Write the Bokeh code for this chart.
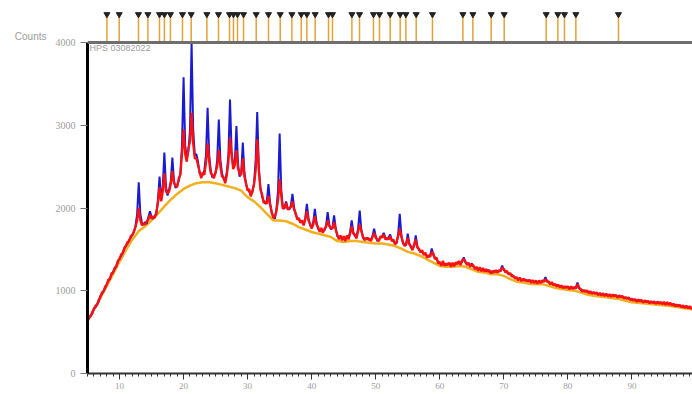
import numpy as np
from bokeh.plotting import figure
from bokeh.models import FixedTicker, SingleIntervalTicker, Label, Span, LinearAxis
from bokeh.embed import file_html
from bokeh.resources import INLINE

# ---------------- data ----------------
TWO_THETA_START = 5.0
TWO_THETA_STEP = 0.25

# observed counts (blue), one row per degree: x.00, x.25, x.50, x.75
OBS = [
    650, 668, 700, 722,      # 5
    790, 800, 838, 870,      # 6
    935, 960, 1000, 1030,    # 7
    1080, 1118, 1150, 1195,  # 8
    1230, 1262, 1300, 1352,  # 9
    1390, 1420, 1462, 1505,  # 10
    1550, 1570, 1612, 1640,  # 11
    1680, 1705, 1790, 1925,  # 12
    2310, 1930, 1820, 1795,  # 13
    1830, 1810, 1890, 1960,  # 14
    1895, 1870, 1905, 1925,  # 15
    2100, 2380, 2110, 2250,  # 16
    2670, 2260, 2150, 2230,  # 17
    2320, 2610, 2330, 2240,  # 18
    2280, 2330, 2420, 2750,  # 19
    3580, 2760, 2600, 2680,  # 20
    2940, 4000, 2950, 2640,  # 21
    2650, 2560, 2420, 2390,  # 22
    2400, 2460, 2640, 3210,  # 23
    2640, 2450, 2370, 2390,  # 24
    2420, 2580, 3070, 2580,  # 25
    2420, 2350, 2330, 2430,  # 26
    2640, 3310, 2680, 2510,  # 27
    2560, 2990, 2530, 2380,  # 28
    2430, 2790, 2430, 2290,  # 29
    2230, 2200, 2160, 2190,  # 30
    2300, 2560, 3160, 2480,  # 31
    2250, 2140, 2090, 2050,  # 32
    2080, 2290, 2070, 1940,  # 33
    1900, 1870, 1990, 2210,  # 34
    2900, 2220, 2010, 1990,  # 35
    2080, 2000, 1980, 2030,  # 36
    2170, 2010, 1920, 1880,  # 37
    1860, 1840, 1830, 1810,  # 38
    1880, 2050, 1880, 1790,  # 39
    1770, 1830, 1990, 1830,  # 40
    1750, 1730, 1745, 1720,  # 41
    1730, 1790, 1950, 1800,  # 42
    1740, 1770, 1910, 1760,  # 43
    1660, 1640, 1650, 1630,  # 44
    1640, 1620, 1650, 1640,  # 45
    1710, 1850, 1710, 1660,  # 46
    1650, 1750, 1970, 1740,  # 47
    1640, 1630, 1620, 1640,  # 48
    1610, 1620, 1660, 1750,  # 49
    1660, 1600, 1620, 1640,  # 50
    1660, 1700, 1640, 1620,  # 51
    1640, 1680, 1620, 1600,  # 52
    1580, 1570, 1680, 1930,  # 53
    1680, 1570, 1560, 1550,  # 54
    1690, 1570, 1520, 1510,  # 55
    1540, 1670, 1540, 1490,  # 56
    1480, 1470, 1450, 1440,  # 57
    1420, 1410, 1430, 1510,  # 58
    1430, 1400, 1380, 1350,  # 59
    1330, 1320, 1340, 1320,  # 60
    1310, 1330, 1320, 1310,  # 61
    1320, 1310, 1330, 1340,  # 62
    1340, 1330, 1350, 1405,  # 63
    1340, 1330, 1320, 1310,  # 64
    1330, 1290, 1280, 1270,  # 65
    1260, 1270, 1250, 1260,  # 66
    1250, 1240, 1250, 1230,  # 67
    1230, 1220, 1240, 1230,  # 68
    1240, 1230, 1250, 1305,  # 69
    1250, 1240, 1220, 1210,  # 70
    1200, 1190, 1170, 1160,  # 71
    1150, 1140, 1150, 1130,  # 72
    1130, 1140, 1120, 1125,  # 73
    1120, 1110, 1120, 1105,  # 74
    1110, 1100, 1115, 1105,  # 75
    1110, 1120, 1164, 1120,  # 76
    1100, 1090, 1095, 1080,  # 77
    1070, 1065, 1060, 1055,  # 78
    1050, 1045, 1040, 1050,  # 79
    1040, 1030, 1045, 1035,  # 80
    1030, 1040, 1100, 1040,  # 81
    1010, 1005, 995, 1000,   # 82
    990, 985, 980, 975,      # 83
    970, 975, 965, 960,      # 84
    960, 955, 960, 950,      # 85
    950, 945, 950, 940,      # 86
    940, 945, 935, 930,      # 87
    930, 935, 925, 920,      # 88
    910, 915, 905, 900,      # 89
    890, 895, 885, 880,      # 90
    880, 885, 875, 870,      # 91
    870, 875, 865, 862,      # 92
    860, 865, 858, 855,      # 93
    855, 858, 850, 852,      # 94
    850, 845, 848, 842,      # 95
    840, 835, 830, 825,      # 96
    820, 825, 815, 812,      # 97
    810, 805, 808, 800,      # 98
    800, 795, 790,           # 99
]

# second trace (red)
CALC = [
    640, 690, 690, 745,      # 5
    775, 820, 825, 890,      # 6
    920, 980, 990, 1050,     # 7
    1070, 1135, 1140, 1210,  # 8
    1220, 1280, 1290, 1365,  # 9
    1380, 1440, 1450, 1520,  # 10
    1540, 1590, 1600, 1660,  # 11
    1670, 1720, 1770, 1850,  # 12
    2000, 1850, 1790, 1815,  # 13
    1800, 1840, 1860, 1920,  # 14
    1870, 1900, 1880, 1950,  # 15
    2060, 2250, 2080, 2200,  # 16
    2420, 2200, 2180, 2200,  # 17
    2290, 2450, 2300, 2270,  # 18
    2250, 2360, 2400, 2650,  # 19
    2950, 2650, 2560, 2720,  # 20
    2800, 3150, 2780, 2600,  # 21
    2600, 2520, 2440, 2360,  # 22
    2430, 2400, 2550, 2780,  # 23
    2560, 2420, 2400, 2360,  # 24
    2440, 2500, 2700, 2500,  # 25
    2380, 2370, 2300, 2400,  # 26
    2560, 2850, 2640, 2470,  # 27
    2520, 2700, 2480, 2410,  # 28
    2400, 2600, 2380, 2300,  # 29
    2210, 2230, 2140, 2210,  # 30
    2280, 2450, 2830, 2450,  # 31
    2220, 2170, 2060, 2080,  # 32
    2050, 2150, 2040, 1960,  # 33
    1880, 1900, 1960, 2100,  # 34
    2350, 2150, 1990, 2010,  # 35
    2060, 1980, 2000, 2010,  # 36
    2080, 1980, 1940, 1860,  # 37
    1880, 1820, 1850, 1790,  # 38
    1860, 1960, 1850, 1810,  # 39
    1750, 1800, 1900, 1800,  # 40
    1770, 1710, 1760, 1700,  # 41
    1750, 1770, 1850, 1780,  # 42
    1760, 1750, 1830, 1740,  # 43
    1680, 1620, 1670, 1610,  # 44
    1660, 1600, 1670, 1620,  # 45
    1690, 1780, 1690, 1680,  # 46
    1630, 1720, 1800, 1720,  # 47
    1660, 1610, 1640, 1620,  # 48
    1630, 1600, 1650, 1700,  # 49
    1640, 1620, 1600, 1660,  # 50
    1640, 1680, 1620, 1640,  # 51
    1620, 1660, 1600, 1620,  # 52
    1560, 1590, 1660, 1750,  # 53
    1650, 1590, 1540, 1570,  # 54
    1640, 1560, 1540, 1490,  # 55
    1560, 1620, 1520, 1510,  # 56
    1460, 1490, 1430, 1460,  # 57
    1400, 1430, 1410, 1470,  # 58
    1450, 1380, 1400, 1330,  # 59
    1350, 1300, 1360, 1300,  # 60
    1330, 1310, 1340, 1290,  # 61
    1340, 1295, 1345, 1320,  # 62
    1360, 1310, 1370, 1380,  # 63
    1355, 1310, 1340, 1290,  # 64
    1320, 1305, 1260, 1290,  # 65
    1240, 1285, 1235, 1275,  # 66
    1230, 1260, 1230, 1250,  # 67
    1210, 1240, 1220, 1250,  # 68
    1220, 1250, 1235, 1280,  # 69
    1265, 1220, 1240, 1195,  # 70
    1215, 1170, 1185, 1145,  # 71
    1165, 1125, 1160, 1115,  # 72
    1145, 1120, 1135, 1110,  # 73
    1135, 1095, 1130, 1090,  # 74
    1125, 1085, 1125, 1090,  # 75
    1125, 1105, 1140, 1105,  # 76
    1115, 1075, 1105, 1065,  # 77
    1085, 1050, 1075, 1040,  # 78
    1065, 1030, 1055, 1035,  # 79
    1055, 1015, 1055, 1020,  # 80
    1045, 1025, 1080, 1025,  # 81
    1025, 990, 1010, 985,    # 82
    1005, 970, 995, 960,     # 83
    985, 960, 980, 945,      # 84
    975, 940, 970, 935,      # 85
    965, 930, 960, 925,      # 86
    955, 930, 950, 915,      # 87
    945, 920, 940, 905,      # 88
    925, 900, 920, 885,      # 89
    905, 880, 900, 865,      # 90
    895, 870, 890, 855,      # 91
    885, 860, 880, 848,      # 92
    875, 850, 872, 840,      # 93
    870, 843, 865, 837,      # 94
    865, 830, 862, 828,      # 95
    855, 820, 845, 810,      # 96
    835, 810, 830, 798,      # 97
    825, 790, 822, 786,      # 98
    815, 780, 800,           # 99
]

# background curve (orange)
BKG_X = [5, 6, 7, 8, 9, 10, 11, 12, 13, 14, 15, 16, 17, 18, 19, 20, 21, 22, 23, 24,
         25, 26, 27, 28, 29, 30, 31, 32, 33, 34, 35, 36, 37, 38, 39, 40, 41, 42, 43, 44,
         45, 46, 47, 48, 49, 50, 51, 52, 53, 54, 55, 56, 57, 58, 59, 60, 61, 62, 63, 64,
         65, 66, 67, 68, 69, 70, 71, 72, 73, 74, 75, 76, 77, 78, 79, 80, 81, 82, 83, 84,
         85, 86, 87, 88, 89, 90, 92, 94, 96, 98, 100]
BKG_Y = [630, 770, 910, 1055, 1200, 1350, 1490, 1620, 1720, 1780, 1850, 1930, 2020, 2100, 2170,
         2230, 2270, 2300, 2310, 2310, 2300, 2280, 2260, 2240, 2210, 2130, 2080, 2010, 1930, 1850,
         1850, 1840, 1810, 1770, 1740, 1710, 1690, 1670, 1650, 1600, 1590, 1600, 1600, 1590, 1580,
         1570, 1570, 1560, 1540, 1510, 1470, 1450, 1420, 1380, 1340, 1300, 1290, 1290, 1300, 1290,
         1260, 1230, 1220, 1200, 1200, 1180, 1140, 1110, 1100, 1085, 1080, 1080, 1060, 1035, 1020,
         1010, 1000, 980, 955, 940, 930, 920, 910, 900, 880, 860, 845, 830, 815, 790, 770]

# reference peak positions (marker ticks above the plot)
PEAK_POS = [8.03, 9.95, 12.96, 14.43, 16.24, 17.01, 17.95, 19.83, 21.19, 23.64, 25.45,
            27.17, 27.79, 28.42, 29.36, 31.34, 33.26, 35.09, 36.91, 38.37, 39.25, 40.55,
            42.63, 43.25, 46.28, 47.47, 49.65, 50.59, 52.26, 53.82, 54.71, 56.32, 58.86,
            63.61, 65.17, 68.03, 70.06, 76.62, 78.44, 79.47, 81.25, 87.90]

Y_TICKS = [0, 1000, 2000, 3000, 4000]
Y_MAX = 4000
Y_LABEL = "Counts"
Y_LABEL_POS = 4078
SAMPLE = "HPS 03082022"

two_theta = TWO_THETA_START + TWO_THETA_STEP * np.arange(len(OBS))

# ---------------- figure ----------------
p = figure(width=692, height=394, x_range=(5, 99.46), y_range=(0, 4387),
           output_backend="svg", toolbar_location=None,
           min_border_left=87, min_border_right=0, min_border_top=10, min_border_bottom=21)
p.background_fill_color = "white"
p.border_fill_color = "white"
p.outline_line_color = None
p.xgrid.visible = False
p.ygrid.visible = False

LABEL_GRAY = "#9c9c9c"

# y axis
p.yaxis.bounds = (0, Y_MAX)
p.yaxis.ticker = FixedTicker(ticks=Y_TICKS)
p.yaxis.axis_line_width = 3
p.yaxis.axis_line_color = "black"
p.yaxis.major_tick_in = 0
p.yaxis.major_tick_out = 7
p.yaxis.major_tick_line_color = "#777777"
p.yaxis.minor_tick_line_color = None
p.yaxis.major_label_text_color = LABEL_GRAY
p.yaxis.major_label_text_font_size = "10px"
p.yaxis.major_label_text_font = "Liberation Serif"
p.yaxis.major_label_standoff = 5

# outer left axis carrying only the "Counts" caption
counts_axis = LinearAxis(ticker=FixedTicker(ticks=[Y_LABEL_POS]),
                         major_label_overrides={Y_LABEL_POS: Y_LABEL},
                         axis_line_color=None, major_tick_line_color=None,
                         minor_tick_line_color=None, major_tick_out=0, major_tick_in=0,
                         major_label_standoff=6, major_label_text_color=LABEL_GRAY,
                         major_label_text_font_size="10px",
                         major_label_text_font="Liberation Sans")
p.add_layout(counts_axis, "left")

# x axis
p.xaxis.ticker = SingleIntervalTicker(interval=10, num_minor_ticks=10)
p.xaxis.axis_line_width = 2
p.xaxis.axis_line_color = "#333333"
p.xaxis.major_tick_in = 0
p.xaxis.major_tick_out = 6
p.xaxis.minor_tick_in = 0
p.xaxis.minor_tick_out = 3
p.xaxis.major_tick_line_color = "#333333"
p.xaxis.minor_tick_line_color = "#333333"
p.xaxis.major_label_text_color = LABEL_GRAY
p.xaxis.major_label_text_font_size = "9px"
p.xaxis.major_label_text_font = "Liberation Serif"
p.xaxis.major_label_standoff = 3

# curves
p.line(BKG_X, BKG_Y, line_color="#f2b01e", line_width=2.5)
p.line(two_theta, OBS, line_color="#1a1ad0", line_width=2)
p.line(two_theta, CALC, line_color="#ff1010", line_width=2.3)

# top frame line
p.add_layout(Span(location=Y_MAX, dimension="width", line_color="#6e6e6e", line_width=3))

# peak markers
p.segment(x0=PEAK_POS, y0=[Y_MAX] * len(PEAK_POS), x1=PEAK_POS, y1=[4305] * len(PEAK_POS),
          line_color="#e3a236", line_width=1.5)
p.scatter(PEAK_POS, [4340] * len(PEAK_POS), marker="inverted_triangle", size=6,
          fill_color="#222222", line_color="#222222")

# sample caption
p.add_layout(Label(x=5.3, y=3935, text=SAMPLE, text_font_size="9px", text_color=LABEL_GRAY,
                   text_font="Liberation Sans", text_baseline="middle"))

open("out.html", "w").write(file_html(p, INLINE))
